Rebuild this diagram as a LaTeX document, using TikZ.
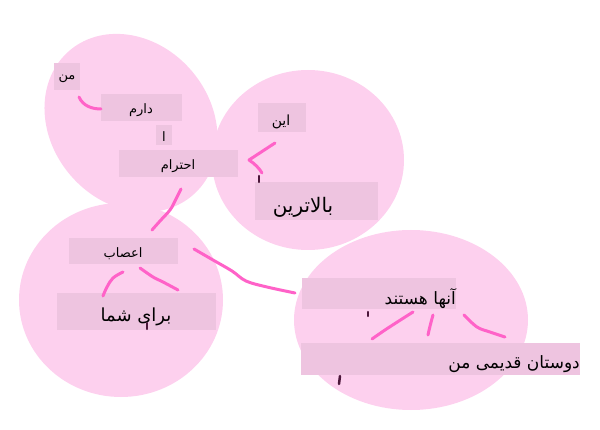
\documentclass[tikz,border=0pt]{standalone}
\usepackage{fontspec}
\newfontfamily\arabicfont[Script=Arabic]{DejaVu Sans}
\TeXXeTstate=1
\newcommand{\artxt}[1]{\arabicfont\beginR #1\endR}
\definecolor{blobpink}{RGB}{253,208,238}
\definecolor{boxpink}{RGB}{238,196,224}
\definecolor{linkpink}{RGB}{255,98,200}
\definecolor{tickdark}{RGB}{75,22,58}
\tikzset{
  blob/.style={fill=blobpink, draw=none},
  lbox/.style={fill=boxpink, draw=none, inner sep=0pt, rectangle},
  lbl/.style={inner sep=0pt, text=black},
  conn/.style={draw=linkpink, line width=3pt, line cap=round, line join=round},
  tickmark/.style={draw=tickdark, line width=2.5pt, line cap=round},
}
\begin{document}
\begin{tikzpicture}[x=1pt,y=-1pt]
\useasboundingbox (0,0) rectangle (600,430);
% blobs
\fill[blob, rotate around={-50:(131,123)}] (131,123) ellipse [x radius=95, y radius=80];
\fill[blob] (308,160) ellipse [x radius=96, y radius=90];
\fill[blob] (121,300) ellipse [x radius=102, y radius=97];
\fill[blob] (411,320) ellipse [x radius=117, y radius=90];
% boxes
\node[lbox, minimum width=26pt, minimum height=27pt] (man) at (67,76.5) {};
\node[lbox, minimum width=81pt, minimum height=27pt] (daram) at (141.5,107.5) {};
\node[lbox, minimum width=16pt, minimum height=20pt] (alef) at (164,135) {};
\node[lbox, minimum width=119pt, minimum height=27pt] (ehteram) at (178.5,163.5) {};
\node[lbox, minimum width=48pt, minimum height=29pt] (in) at (282,117.5) {};
\node[lbox, minimum width=123pt, minimum height=38pt] (balatarin) at (316.5,201) {};
\node[lbox, minimum width=109pt, minimum height=26pt] (asab) at (123.5,251) {};
\node[lbox, minimum width=159pt, minimum height=37pt] (baraye) at (136.5,311.5) {};
\node[lbox, minimum width=154pt, minimum height=31pt] (anha) at (379,293.5) {};
\node[lbox, minimum width=279pt, minimum height=32pt] (doostan) at (440.5,359) {};
% labels
\node[lbl, font=\fontsize{13}{15}\selectfont] (tman) at (67,79) {\artxt{من}};
\node[lbl, font=\fontsize{13}{15}\selectfont] (tdaram) at (141,110) {\artxt{دارم}};
\node[lbl, font=\fontsize{13}{15}\selectfont] (talef) at (164,137) {\artxt{ا}};
\node[lbl, font=\fontsize{13}{15}\selectfont] (tehteram) at (178,166) {\artxt{احترام}};
\node[lbl, font=\fontsize{14}{16}\selectfont] (tin) at (281,122) {\artxt{این}};
\node[lbl, font=\fontsize{20}{22}\selectfont] (tbalatarin) at (303,207) {\artxt{بالاترین}};
\node[lbl, font=\fontsize{13}{15}\selectfont] (tasab) at (123,254) {\artxt{اعصاب}};
\node[lbl, font=\fontsize{18}{20}\selectfont] (tbaraye) at (136,317) {\artxt{برای شما}};
\node[lbl, font=\fontsize{17}{19}\selectfont, anchor=east] (tanha) at (456,299) {\artxt{آنها هستند}};
\node[lbl, font=\fontsize{17}{19}\selectfont, anchor=east] (tdoostan) at (580,364) {\artxt{دوستان قدیمی من}};
% connector end points
\coordinate (c1a) at (79,97);
\coordinate (c1b) at (101,109);
\coordinate (c2a) at (181,189);
\coordinate (c2b) at (152,230);
\coordinate (c3a) at (275,143);
\coordinate (c3m) at (249,160);
\coordinate (c3b) at (262,173);
\coordinate (c4a) at (194,249);
\coordinate (c4b) at (295,293);
\coordinate (c5a) at (123,272);
\coordinate (c5b) at (103,296);
\coordinate (c6a) at (140,268);
\coordinate (c6b) at (178,290);
\coordinate (c7a) at (413,312);
\coordinate (c7b) at (372,339);
\coordinate (c8a) at (433,315);
\coordinate (c8b) at (428,335);
\coordinate (c9a) at (464,315);
\coordinate (c9b) at (505,337);
% connectors
\draw[conn] (c1a) .. controls (83,106) and (92,109) .. (c1b);
\draw[conn] plot[smooth, tension=0.6] coordinates {(c2a) (175,201) (170,210) (160,221) (c2b)};
\draw[conn] (c3a) -- (c3m) .. controls (255,164) and (259,168) .. (c3b);
\draw[conn] plot[smooth, tension=0.6] coordinates {(c4a) (213,260) (232,271) (246,281) (267,287) (c4b)};
\draw[conn] plot[smooth, tension=0.6] coordinates {(c5a) (113,278) (107,287) (c5b)};
\draw[conn] plot[smooth, tension=0.6] coordinates {(c6a) (153,277) (163,282) (c6b)};
\draw[conn] plot[smooth, tension=0.6] coordinates {(c7a) (402,319) (385,330) (c7b)};
\draw[conn] (c8a) .. controls (431,322) and (429,330) .. (c8b);
\draw[conn] plot[smooth, tension=0.6] coordinates {(c9a) (477,327) (490,332) (c9b)};
% small dark marks
\draw[tickmark] (259,176) -- (259,182);
\draw[tickmark] (147,323) -- (147,329);
\draw[tickmark] (368,312) -- (368,316);
\draw[tickmark] (340,376) -- (339,384);
\end{tikzpicture}
\end{document}
